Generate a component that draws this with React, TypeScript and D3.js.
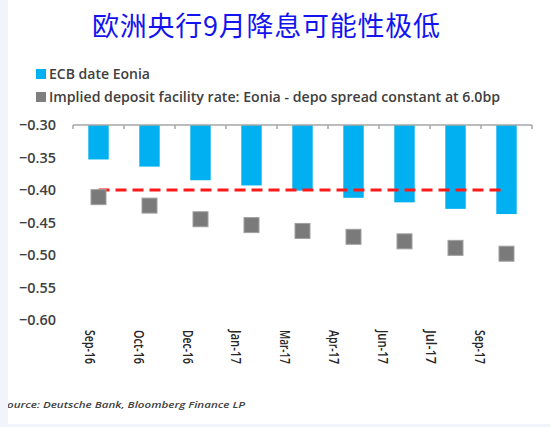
import React, { useRef, useEffect } from "react";
import * as d3 from "d3";

const categories = ["Sep-16", "Oct-16", "Dec-16", "Jan-17", "Mar-17", "Apr-17", "Jun-17", "Jul-17", "Sep-17"];
const eonia = [-0.353, -0.364, -0.385, -0.393, -0.401, -0.412, -0.419, -0.429, -0.437];
const implied = [-0.411, -0.424, -0.445, -0.454, -0.463, -0.472, -0.479, -0.489, -0.498];
const yTicks = [-0.3, -0.35, -0.4, -0.45, -0.5, -0.55, -0.6];
const depoRate = -0.4;

const App = () => {
    const svgRef = useRef(null);

    useEffect(() => {
        const width = 550;
        const height = 427;
        const svg = d3.select(svgRef.current).attr("width", width).attr("height", height);
        svg.selectAll("*").remove();

        svg.append("rect").attr("width", width).attr("height", height).attr("fill", "#ffffff");

        const x = d3.scaleBand().domain(categories).range([73, 532]).paddingInner(0.6).paddingOuter(0.3);
        const xLabel = d3.scalePoint().domain(categories).range([91, 481]);
        const y = d3.scaleLinear().domain([-0.3, -0.6]).range([125, 320]);

        // title
        svg.append("text")
            .attr("x", 266)
            .attr("y", 36)
            .attr("text-anchor", "middle")
            .attr("font-family", "'Noto Sans CJK SC', sans-serif")
            .attr("font-size", 27)
            .attr("fill", "#1414f0")
            .attr("textLength", 348)
            .text("欧洲央行9月降息可能性极低");

        // legend
        const legend = [
            { label: "ECB date Eonia", color: "#00b0f0", len: 101 },
            { label: "Implied deposit facility rate: Eonia - depo spread constant at 6.0bp", color: "#7f7f7f", len: 451 },
        ];
        legend.forEach((d, i) => {
            const ly = 74 + i * 23;
            svg.append("rect").attr("x", 36).attr("y", ly - 5).attr("width", 10).attr("height", 10).attr("fill", d.color);
            svg.append("text")
                .attr("x", 49)
                .attr("y", ly + 5)
                .attr("font-family", "'Open Sans', sans-serif")
                .attr("font-size", 14)
                .attr("font-weight", 600)
                .attr("fill", "#404040")
                .attr("textLength", d.len)
                .attr("lengthAdjust", "spacingAndGlyphs")
                .text(d.label);
        });

        // y labels
        svg.append("g")
            .selectAll("text")
            .data(yTicks)
            .enter()
            .append("text")
            .attr("x", 56)
            .attr("y", (d) => y(d))
            .attr("dy", "0.35em")
            .attr("text-anchor", "end")
            .attr("font-family", "'Open Sans', sans-serif")
            .attr("font-size", 15)
            .attr("font-weight", 600)
            .attr("fill", "#404040")
            .attr("textLength", 37)
            .attr("lengthAdjust", "spacingAndGlyphs")
            .text((d) => d3.format(".2f")(d));

        // bars
        svg.append("g")
            .selectAll("rect")
            .data(eonia)
            .enter()
            .append("rect")
            .attr("x", (d, i) => x(categories[i]) as number)
            .attr("y", y(-0.3))
            .attr("width", x.bandwidth())
            .attr("height", (d) => y(d) - y(-0.3))
            .attr("fill", "#00b0f0");

        // axis along the top (value -0.30)
        const axis = svg.append("g").attr("stroke", "#a6a6a6").attr("stroke-width", 1.5);
        axis.append("line").attr("x1", 73).attr("x2", 532).attr("y1", y(-0.3)).attr("y2", y(-0.3));
        const step = (532 - 73) / categories.length;
        d3.range(categories.length + 1).forEach((i) => {
            axis.append("line")
                .attr("x1", 73 + i * step)
                .attr("x2", 73 + i * step)
                .attr("y1", y(-0.3))
                .attr("y2", y(-0.3) + 4);
        });

        // dashed line at the deposit rate
        const first = (x(categories[0]) as number) + x.bandwidth() / 2;
        const last = (x(categories[categories.length - 1]) as number) + x.bandwidth() / 2;
        svg.append("line")
            .attr("x1", first)
            .attr("x2", last)
            .attr("y1", y(depoRate))
            .attr("y2", y(depoRate))
            .attr("stroke", "#ff1a1a")
            .attr("stroke-width", 3)
            .attr("stroke-dasharray", "11,6");

        // squares
        const size = 15;
        svg.append("g")
            .selectAll("rect")
            .data(implied)
            .enter()
            .append("rect")
            .attr("x", (d, i) => (x(categories[i]) as number) + x.bandwidth() / 2 - size / 2)
            .attr("y", (d) => y(d) - size / 2)
            .attr("width", size)
            .attr("height", size)
            .attr("fill", "#7a7a7a")
            .attr("stroke", "#a0a0a0")
            .attr("stroke-width", 1);

        // x labels
        svg.append("g")
            .selectAll("text")
            .data(categories)
            .enter()
            .append("text")
            .attr("transform", (d) => `translate(${xLabel(d)},330) rotate(90)`)
            .attr("dominant-baseline", "central")
            .attr("font-family", "'Open Sans', sans-serif")
            .attr("font-size", 15)
            .attr("font-weight", 600)
            .attr("fill", "#262626")
            .attr("textLength", 34)
            .attr("lengthAdjust", "spacingAndGlyphs")
            .text((d) => d);

        // source
        svg.append("text")
            .attr("x", 1)
            .attr("y", 408)
            .attr("font-family", "'Open Sans', sans-serif")
            .attr("font-size", 9)
            .attr("font-style", "italic")
            .attr("font-weight", 600)
            .attr("fill", "#404040")
            .attr("textLength", 244)
            .attr("lengthAdjust", "spacingAndGlyphs")
            .text("Source: Deutsche Bank, Bloomberg Finance LP");

        // faint frame on left and bottom edges
        svg.append("rect").attr("x", 0).attr("y", 0).attr("width", 8).attr("height", height).attr("fill", "#f1f4fa");
        svg.append("rect").attr("x", 0).attr("y", 424).attr("width", width).attr("height", 3).attr("fill", "#f1f4fa");
    }, []);

    return <svg ref={svgRef} style={{ position: "absolute", left: 0, top: 0 }}></svg>;
};

export default App;
